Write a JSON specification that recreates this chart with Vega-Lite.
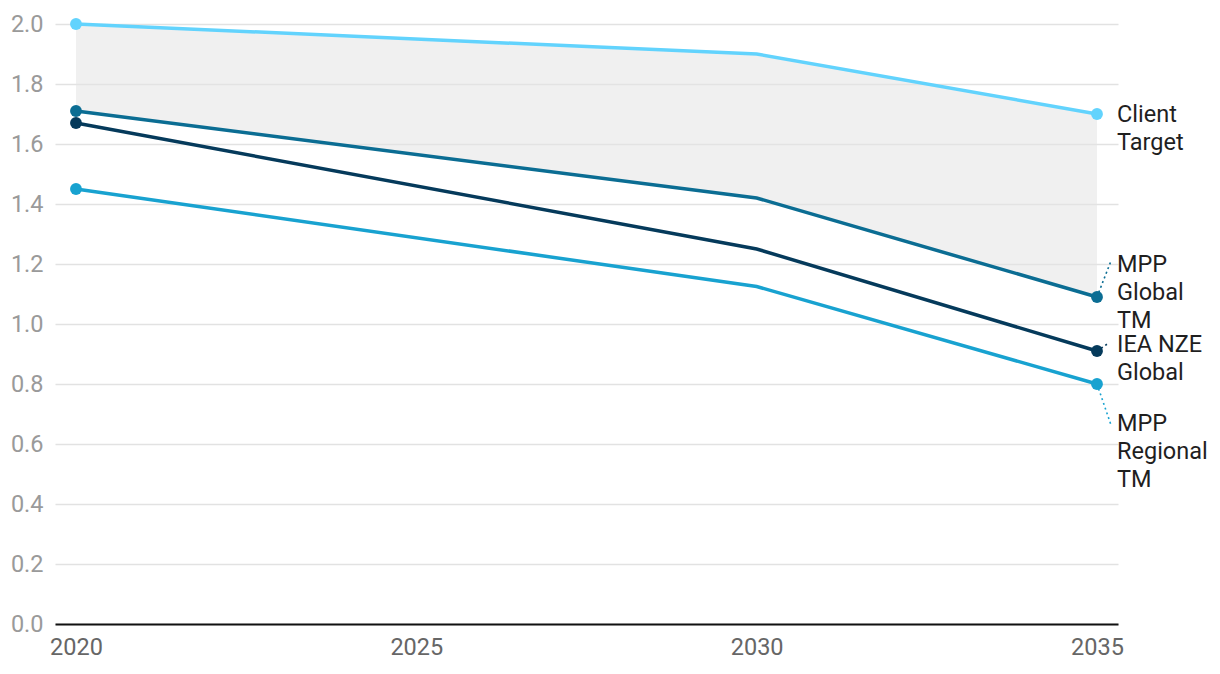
{
  "$schema": "https://vega.github.io/schema/vega-lite/v6.json",
  "width": 1063,
  "height": 600,
  "autosize": "none",
  "padding": {"left": 55, "top": 24, "right": 102, "bottom": 50},
  "background": "white",
  "config": {
    "view": {"stroke": null},
    "font": "Roboto",
    "axis": {"labelFont": "Roboto", "labelFontSize": 23.5, "title": null}
  },
  "datasets": {
    "series": [
      {"series": "Client Target", "year": 2020, "value": 2.0},
      {"series": "Client Target", "year": 2030, "value": 1.9},
      {"series": "Client Target", "year": 2035, "value": 1.7},
      {"series": "MPP Global TM", "year": 2020, "value": 1.71},
      {"series": "MPP Global TM", "year": 2030, "value": 1.42},
      {"series": "MPP Global TM", "year": 2035, "value": 1.09},
      {"series": "IEA NZE Global", "year": 2020, "value": 1.67},
      {"series": "IEA NZE Global", "year": 2030, "value": 1.25},
      {"series": "IEA NZE Global", "year": 2035, "value": 0.91},
      {"series": "MPP Regional TM", "year": 2020, "value": 1.45},
      {"series": "MPP Regional TM", "year": 2030, "value": 1.125},
      {"series": "MPP Regional TM", "year": 2035, "value": 0.8}
    ],
    "labels": [
      {"series": "Client Target", "label": "Client\nTarget", "label_y": 1.736},
      {"series": "MPP Global TM", "label": "MPP\nGlobal\nTM", "label_y": 1.236, "conn_x": 2035.2, "conn_y": 1.207},
      {"series": "IEA NZE Global", "label": "IEA NZE\nGlobal", "label_y": 0.97, "conn_x": 2035.15, "conn_y": 0.933},
      {"series": "MPP Regional TM", "label": "MPP\nRegional\nTM", "label_y": 0.706, "conn_x": 2035.2, "conn_y": 0.667}
    ]
  },
  "data": {"name": "series"},
  "encoding": {
    "x": {
      "field": "year",
      "type": "quantitative",
      "scale": {"domain": [2020, 2035], "padding": 21, "nice": false, "zero": false},
      "axis": {
        "values": [2020, 2025, 2030, 2035],
        "format": "d",
        "grid": false,
        "ticks": false,
        "domain": true,
        "domainColor": "#111111",
        "domainWidth": 2,
        "labelColor": "#666666",
        "labelPadding": 11,
        "labelFlush": false
      }
    },
    "y": {
      "field": "value",
      "type": "quantitative",
      "scale": {"domain": [0, 2], "nice": false},
      "axis": {
        "values": [0, 0.2, 0.4, 0.6, 0.8, 1.0, 1.2, 1.4, 1.6, 1.8, 2.0],
        "format": ".1f",
        "grid": true,
        "gridColor": "#e2e2e2",
        "gridWidth": 1.5,
        "ticks": false,
        "domain": false,
        "labelColor": "#9a9a9a",
        "labelPadding": 12
      }
    }
  },
  "layer": [
    {
      "transform": [
        {"filter": "datum.series === 'Client Target' || datum.series === 'MPP Global TM'"},
        {"pivot": "series", "value": "value", "groupby": ["year"]}
      ],
      "mark": {"type": "area", "color": "#e3e3e3", "opacity": 0.55},
      "encoding": {
        "y": {"field": "Client Target", "type": "quantitative"},
        "y2": {"field": "MPP Global TM"}
      }
    },
    {
      "mark": {"type": "line", "strokeWidth": 3.5},
      "encoding": {
        "color": {
          "field": "series",
          "type": "nominal",
          "scale": {
            "domain": ["Client Target", "MPP Global TM", "IEA NZE Global", "MPP Regional TM"],
            "range": ["#62d3fd", "#0b6d93", "#053a5b", "#18a2d0"]
          },
          "legend": null
        }
      }
    },
    {
      "transform": [
        {"filter": "datum.year === 2035"},
        {"lookup": "series", "from": {"data": {"name": "labels"}, "key": "series", "fields": ["conn_x", "conn_y"]}},
        {"filter": "isValid(datum.conn_x)"}
      ],
      "mark": {"type": "rule", "strokeWidth": 1.6, "strokeDash": [2, 3]},
      "encoding": {
        "x2": {"field": "conn_x"},
        "y2": {"field": "conn_y"},
        "color": {"field": "series", "type": "nominal", "legend": null}
      }
    },
    {
      "transform": [{"filter": "datum.year !== 2030"}],
      "mark": {"type": "point", "filled": true, "opacity": 1, "size": 140},
      "encoding": {
        "color": {"field": "series", "type": "nominal", "legend": null}
      }
    },
    {
      "transform": [
        {"filter": "datum.year === 2035"},
        {"lookup": "series", "from": {"data": {"name": "labels"}, "key": "series", "fields": ["label", "label_y"]}}
      ],
      "mark": {
        "type": "text",
        "align": "left",
        "baseline": "top",
        "dx": 20,
        "fontSize": 23.5,
        "lineHeight": 28,
        "lineBreak": "\n",
        "color": "#1f1f1f"
      },
      "encoding": {
        "y": {"field": "label_y", "type": "quantitative"},
        "text": {"field": "label"}
      }
    }
  ]
}
